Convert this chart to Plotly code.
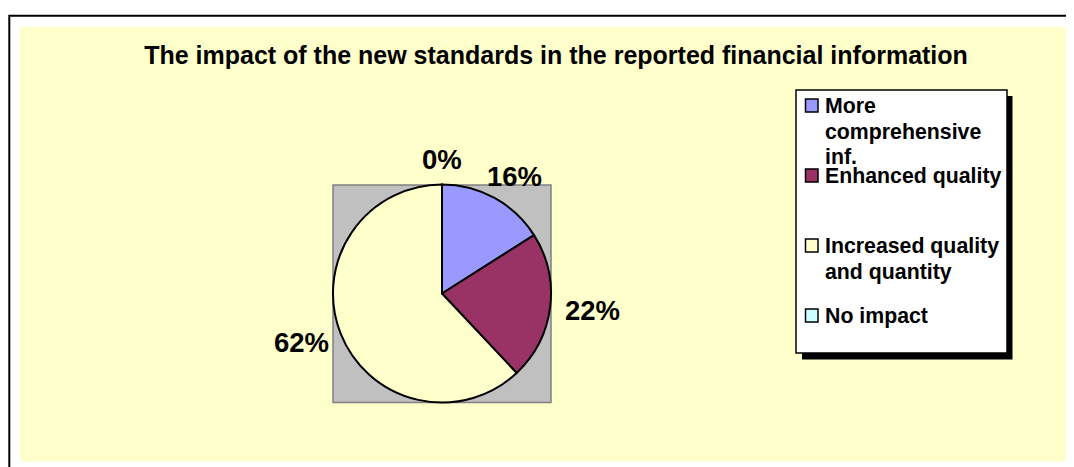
import math
import plotly.graph_objects as go

# ---- data ----
categories = ["More comprehensive inf.", "Enhanced quality",
              "Increased quality and quantity", "No impact"]
legend_lines = [["More", "comprehensive", "inf."],
                ["Enhanced quality"],
                ["Increased quality", "and quantity"],
                ["No impact"]]
values = [16, 22, 62, 0]
colors = ["#9999FF", "#993366", "#FFFFCC", "#CCFFFF"]
title_text = "The impact of the new standards in the reported financial information"

# ---- layout helpers ----
W, H = 1074, 467
OFF = 8  # default page margin of the html body
FONT = "Liberation Sans, Arial, sans-serif"


def px(x):
    return (x - OFF) / W


def py(y):
    return 1 - (y - OFF) / H


# pie geometry (screen pixels)
PIE_L, PIE_R, PIE_T, PIE_B = 333, 551, 184.5, 402.5
CX, CY = (PIE_L + PIE_R) / 2, (PIE_T + PIE_B) / 2
RAD = min(PIE_R - PIE_L, PIE_B - PIE_T) / 2
LABEL_FS = 27.5
GAP = 15

fig = go.Figure()

fig.add_trace(go.Pie(
    labels=categories,
    values=values,
    sort=False,
    direction="clockwise",
    rotation=0,
    marker=dict(colors=colors, line=dict(color="black", width=2)),
    textinfo="none",
    domain=dict(x=[px(PIE_L), px(PIE_R)], y=[py(PIE_B), py(PIE_T)]),
    showlegend=False,
    hoverinfo="skip",
))

shapes = []
# outer black frame (left + top)
shapes.append(dict(type="rect", xref="paper", yref="paper",
                   x0=px(9.3), x1=px(1100), y0=py(15.8), y1=py(490),
                   line=dict(color="black", width=2), fillcolor="rgba(0,0,0,0)",
                   layer="below"))
# yellow chart area
shapes.append(dict(type="rect", xref="paper", yref="paper",
                   x0=px(20), x1=px(1090), y0=py(27), y1=py(461.5),
                   line=dict(width=0), fillcolor="#FFFFCC", layer="below"))
# grey plot area square
shapes.append(dict(type="rect", xref="paper", yref="paper",
                   x0=px(333), x1=px(551), y0=py(185), y1=py(402.5),
                   line=dict(color="#808080", width=1.5), fillcolor="#C0C0C0",
                   layer="below"))
# legend shadow + box
shapes.append(dict(type="rect", xref="paper", yref="paper",
                   x0=px(802), x1=px(1012.5), y0=py(96), y1=py(359.5),
                   line=dict(width=0), fillcolor="black", layer="above"))
shapes.append(dict(type="rect", xref="paper", yref="paper",
                   x0=px(796), x1=px(1007), y0=py(90), y1=py(353),
                   line=dict(color="black", width=1.5), fillcolor="white",
                   layer="above"))

annotations = []

# percentage labels placed just outside each slice's mid-angle
total = sum(values)
cum = 0
for v in values:
    frac = v / total
    theta = 2 * math.pi * (cum + frac / 2)
    cum += frac
    txt = f"{round(frac * 100):d}%"
    ux, uy = math.sin(theta), -math.cos(theta)
    hw = 0.5 * LABEL_FS * sum(0.556 if c.isdigit() else 0.889 for c in txt)
    hh = 0.36 * LABEL_FS
    lx = CX + ux * (RAD + GAP) + ux * hw
    ly = CY + uy * (RAD + GAP) + uy * hh
    annotations.append(dict(
        text=txt, xref="paper", yref="paper", x=px(lx), y=py(ly),
        xanchor="center", yanchor="middle", showarrow=False,
        font=dict(size=LABEL_FS, color="black", family=FONT, weight="bold")))

# legend entries
entry_top = 106
entry_step = 70
line_step = 25.5
for i, (lines, col) in enumerate(zip(legend_lines, colors)):
    yc = entry_top + i * entry_step
    shapes.append(dict(type="rect", xref="paper", yref="paper",
                       x0=px(805.5), x1=px(818), y0=py(yc - 7), y1=py(yc + 6),
                       line=dict(color="black", width=1.5), fillcolor=col,
                       layer="above"))
    for j, ln in enumerate(lines):
        annotations.append(dict(
            text=ln, xref="paper", yref="paper",
            x=px(823), y=py(yc + j * line_step),
            xanchor="left", yanchor="middle", showarrow=False,
            font=dict(size=21.3, color="black", family=FONT, weight="bold")))

fig.update_layout(
    width=W, height=H, autosize=False,
    margin=dict(l=0, r=0, t=0, b=0),
    paper_bgcolor="white",
    plot_bgcolor="white",
    title=dict(text=title_text, x=px(556), y=py(55), xref="paper", yref="paper",
               xanchor="center", yanchor="middle",
               font=dict(size=25, color="black", family=FONT, weight="bold")),
    shapes=shapes,
    annotations=annotations,
)

fig.write_html("out.html")
